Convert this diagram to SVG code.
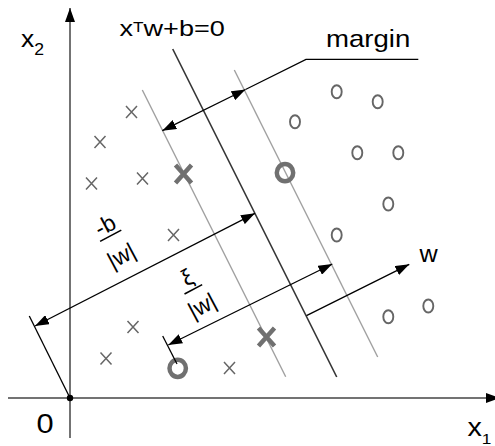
<svg xmlns="http://www.w3.org/2000/svg" width="495" height="446" viewBox="0 0 495 446">
  <defs>
    <marker id="ah" markerWidth="14" markerHeight="10" refX="14" refY="5" orient="auto-start-reverse" markerUnits="userSpaceOnUse">
      <path d="M0,0 L14,5 L0,10 z" fill="#000"/>
    </marker>
    <style>
      text { font-family: "Liberation Sans", Arial, sans-serif; fill: #000; }
      .axis { stroke: #444; stroke-width: 1.5; fill: none; }
      .arr { stroke: #000; stroke-width: 1.3; fill: none; }
      .margin { stroke: #a0a0a0; stroke-width: 1.4; fill: none; }
      .hyper { stroke: #333; stroke-width: 1.6; fill: none; }
      .sx { stroke: #666; stroke-width: 1.5; fill: none; }
      .so { stroke: #666; stroke-width: 1.9; fill: none; }
      .bx { stroke: #707070; stroke-width: 4.5; fill: none; }
      .bo { stroke: #707070; stroke-width: 4.5; fill: none; }
    </style>
  </defs>
  <rect width="495" height="446" fill="#fff"/>

  <g id="axes">
    <line class="axis" x1="70" y1="438" x2="70" y2="8" marker-end="url(#ah)"/>
    <line class="axis" x1="8" y1="398" x2="500" y2="398" marker-end="url(#ah)"/>
    <circle cx="70" cy="398" r="3.2" fill="#000"/>
  </g>

  <g id="hyperplanes">
    <line class="margin" x1="142.3" y1="90" x2="285.7" y2="376.7"/>
    <line class="hyper" x1="172.7" y1="49" x2="336.7" y2="377"/>
    <line class="margin" x1="234.3" y1="70" x2="377.7" y2="357"/>
  </g>

  <g id="markers">
    <g id="x-points">
      <path class="sx" d="M126,106 l11,12 M137,106 l-11,12"/>
      <path class="sx" d="M94.5,136 l11,12 M105.5,136 l-11,12"/>
      <path class="sx" d="M86,177.5 l11,12 M97,177.5 l-11,12"/>
      <path class="sx" d="M137,172.5 l11,12 M148,172.5 l-11,12"/>
      <path class="sx" d="M168,229 l11,12 M179,229 l-11,12"/>
      <path class="sx" d="M127.5,321 l11,12 M138.5,321 l-11,12"/>
      <path class="sx" d="M100.5,352.5 l11,12 M111.5,352.5 l-11,12"/>
      <path class="sx" d="M224,362 l11,12 M235,362 l-11,12"/>
    </g>
    <g id="support-x">
      <path class="bx" d="M175.5,165 l16,18 M191.5,165 l-16,18"/>
      <path class="bx" d="M258.5,328 l16,18 M274.5,328 l-16,18"/>
    </g>
    <g id="support-o">
      <ellipse class="bo" cx="285" cy="172.7" rx="8.2" ry="8.6"/>
      <ellipse class="bo" cx="177.7" cy="368.3" rx="8.2" ry="8.6"/>
    </g>
    <g id="o-points">
      <ellipse class="so" cx="336.7" cy="91.7" rx="5" ry="6.5"/>
      <ellipse class="so" cx="377.7" cy="101.7" rx="5" ry="6.5"/>
      <ellipse class="so" cx="295" cy="121.7" rx="5" ry="6.5"/>
      <ellipse class="so" cx="357.3" cy="152.7" rx="5" ry="6.5"/>
      <ellipse class="so" cx="398.3" cy="152.7" rx="5" ry="6.5"/>
      <ellipse class="so" cx="388.3" cy="204" rx="5" ry="6.5"/>
      <ellipse class="so" cx="336.7" cy="235" rx="5" ry="6.5"/>
      <ellipse class="so" cx="428.3" cy="306" rx="5" ry="6.5"/>
      <ellipse class="so" cx="388.3" cy="316.7" rx="5" ry="6.5"/>
    </g>
  </g>

  <g id="connectors">
    <line class="arr" x1="162.3" y1="130.7" x2="245.5" y2="89.5" marker-start="url(#ah)" marker-end="url(#ah)"/>
    <polyline class="arr" points="245.5,89.5 306,59.3 418.3,59.3"/>
    <line class="arr" x1="35" y1="326" x2="255" y2="213.3" marker-start="url(#ah)" marker-end="url(#ah)"/>
    <line class="arr" x1="70" y1="398" x2="29.3" y2="316"/>
    <line class="arr" x1="168.3" y1="345" x2="332.3" y2="264" marker-start="url(#ah)" marker-end="url(#ah)"/>
    <line class="arr" x1="162.7" y1="336" x2="177" y2="364"/>
    <line class="arr" x1="306.5" y1="315.7" x2="409.3" y2="264.3" marker-end="url(#ah)"/>
  </g>

  <g id="labels">
    <text id="label-x2" transform="translate(21,46.7) scale(1.1,1)"><tspan font-size="24">x</tspan><tspan font-size="16" dy="8.3">2</tspan></text>
    <text id="label-hyperplane" transform="translate(119.5,36) scale(1.23,1)"><tspan font-size="22">x</tspan><tspan font-size="14" dy="-4.5">T</tspan><tspan font-size="22" dy="4.5">w+b=0</tspan></text>
    <text id="label-margin" transform="translate(326,46.7) scale(1.15,1)" font-size="24">margin</text>
    <text id="label-w" transform="translate(419.5,261.7) scale(1.05,1)" font-size="24">w</text>
    <text id="label-origin" transform="translate(36.5,433.3) scale(1.1,1)" font-size="28">0</text>
    <text id="label-x1" transform="translate(467.5,435.5) scale(1.15,1)"><tspan font-size="25">x</tspan><tspan font-size="15" dy="8">1</tspan></text>
    <g id="frac-b" transform="translate(113.75,241.5) rotate(-28)">
      <text x="0" y="-10.5" font-size="23" text-anchor="middle">-b</text>
      <line x1="-12" y1="-6.5" x2="12" y2="-6.5" stroke="#000" stroke-width="1.6"/>
      <text x="0" y="24" font-size="23" text-anchor="middle">|w|</text>
    </g>
    <g id="frac-xi" transform="translate(195.7,293.7) rotate(-28)">
      <text x="0" y="-10.5" font-size="23" text-anchor="middle">ξ</text>
      <line x1="-10" y1="-5" x2="10" y2="-5" stroke="#000" stroke-width="1.6"/>
      <text x="0" y="21.5" font-size="23" text-anchor="middle">|w|</text>
    </g>
  </g>
</svg>
